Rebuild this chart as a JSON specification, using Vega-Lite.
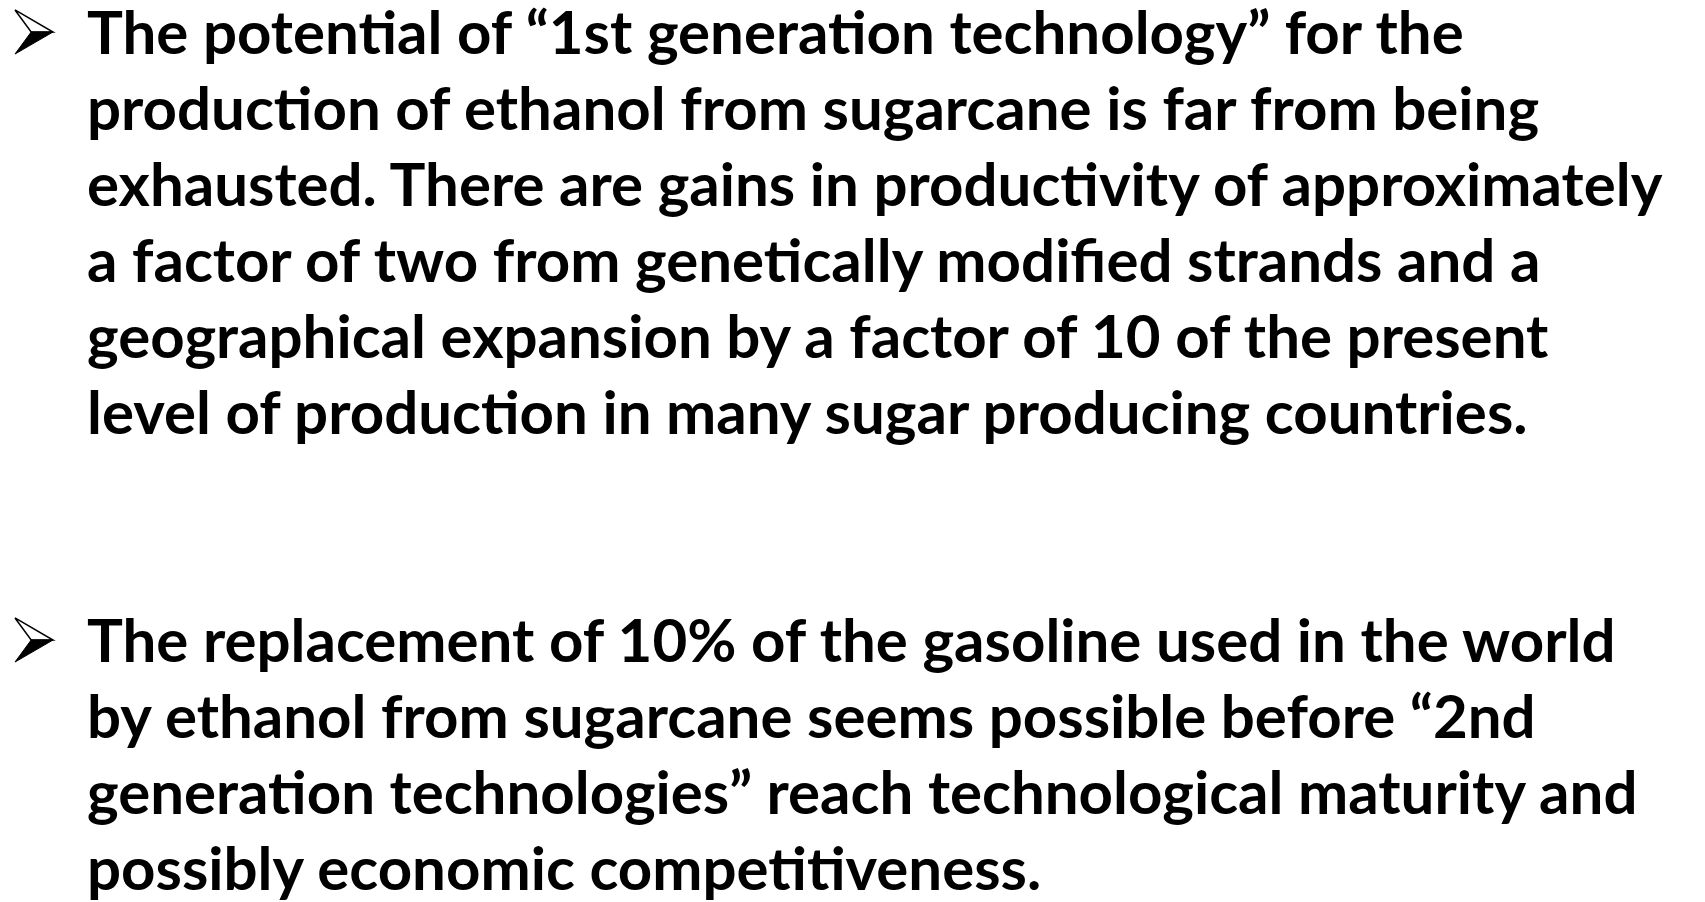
{
  "$schema": "https://vega.github.io/schema/vega-lite/v6.json",
  "width": 1705,
  "height": 902,
  "padding": 0,
  "autosize": {"type": "none"},
  "background": "white",
  "config": {"view": {"stroke": null}},
  "datasets": {
    "lines": [
      {"col": 1, "line": 0, "text": "The potential of “1st generation technology” for the"},
      {"col": 1, "line": 1, "text": "production of ethanol from sugarcane is far from being"},
      {"col": 1, "line": 2, "text": "exhausted. There are gains in productivity of approximately"},
      {"col": 1, "line": 3, "text": "a factor of two from genetically modified strands and a"},
      {"col": 1, "line": 4, "text": "geographical expansion by a factor of 10 of the present"},
      {"col": 1, "line": 5, "text": "level of production in many sugar producing countries."},
      {"col": 1, "line": 8, "text": "The replacement of 10% of the gasoline used in the world"},
      {"col": 1, "line": 9, "text": "by ethanol from sugarcane seems possible before “2nd"},
      {"col": 1, "line": 10, "text": "generation technologies” reach technological maturity and"},
      {"col": 1, "line": 11, "text": "possibly economic competitiveness."}
    ],
    "bullets": [
      {"col": 0, "line": 0},
      {"col": 0, "line": 8}
    ]
  },
  "layer": [
    {
      "data": {"name": "bullets"},
      "mark": {"type": "point", "shape": "M -1 -1.16 L 1 0 L -0.15 0 Z", "filled": true, "fill": "white", "stroke": "black", "strokeWidth": 1.5, "size": 1444, "opacity": 1},
      "encoding": {
        "x": {"field": "col", "type": "quantitative", "scale": {"domain": [0, 1], "range": [34, 87]}, "axis": null},
        "y": {"field": "line", "type": "quantitative", "scale": {"domain": [0, 11], "range": [54, 890]}, "axis": null},
        "yOffset": {"value": -22}
      }
    },
    {
      "data": {"name": "bullets"},
      "mark": {"type": "point", "shape": "M -0.15 0 L 1 0 L -1 1.16 Z", "filled": true, "fill": "black", "stroke": "black", "strokeWidth": 1, "size": 1444, "opacity": 1},
      "encoding": {
        "x": {"field": "col", "type": "quantitative", "scale": {"domain": [0, 1], "range": [34, 87]}, "axis": null},
        "y": {"field": "line", "type": "quantitative", "scale": {"domain": [0, 11], "range": [54, 890]}, "axis": null},
        "yOffset": {"value": -22}
      }
    },
    {
      "data": {"name": "lines"},
      "mark": {"type": "text", "align": "left", "baseline": "alphabetic", "font": "Lato", "fontWeight": "bold", "fontSize": 60, "color": "black"},
      "encoding": {
        "x": {"field": "col", "type": "quantitative", "scale": {"domain": [0, 1], "range": [34, 87]}, "axis": null},
        "y": {"field": "line", "type": "quantitative", "scale": {"domain": [0, 11], "range": [54, 890]}, "axis": null},
        "text": {"field": "text"}
      }
    }
  ]
}
